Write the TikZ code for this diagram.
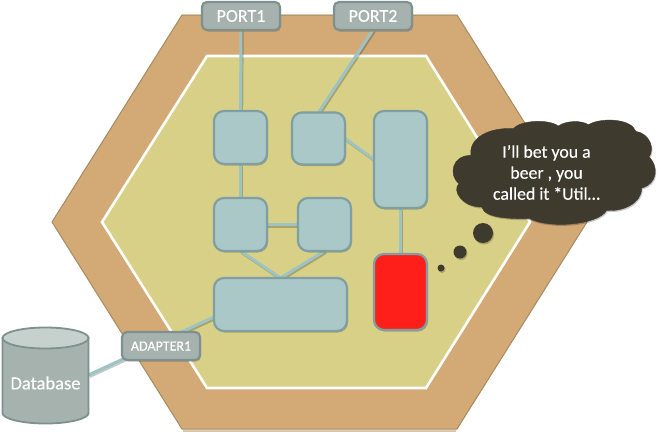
\documentclass[tikz,border=0pt]{standalone}
\usepackage{fontspec}
\setmainfont{Carlito}
\newfontfamily\lblfont[FakeBold=0.35]{Carlito}
\usetikzlibrary{shapes.geometric,shadows,calc}
\pgfdeclarelayer{bg}
\pgfsetlayers{bg,main}
\definecolor{outerc}{HTML}{D3A976}
\definecolor{outeredge}{HTML}{A58C63}
\definecolor{outerpale}{HTML}{D8C7B0}
\definecolor{innerc}{HTML}{D9D088}
\definecolor{boxc}{HTML}{AAC8C8}
\definecolor{boxedge}{HTML}{7F9FA2}
\definecolor{portc}{HTML}{A5B2AE}
\definecolor{portedge}{HTML}{7E918F}
\definecolor{linkc}{HTML}{9CC4C4}
\definecolor{redc}{HTML}{FF1F1A}
\definecolor{cloudc}{HTML}{3F3A2E}
\definecolor{dbtop}{HTML}{C6D1CE}
\tikzset{
  softshadow/.style={drop shadow={shadow xshift=1pt,shadow yshift=-1.5pt,opacity=.22,fill=black}},
  appbox/.style={draw=boxedge,fill=boxc,line width=2.2pt,rounded corners=10pt,inner sep=0pt,outer sep=0pt,softshadow},
  redbox/.style={appbox,fill=redc},
  portbox/.style={draw=portedge,fill=portc,line width=2.2pt,rounded corners=5pt,inner sep=0pt,outer sep=0pt,text=white,softshadow},
  link/.style={draw=linkc,line width=3pt,preaction={draw=black,opacity=.22,line width=3pt,transform canvas={shift={(1.2pt,-1.5pt)}}}},
  bubble/.style={circle,fill=cloudc,inner sep=0pt,outer sep=0pt,softshadow},
  cloudtext/.style={text=white,align=center,font=\lblfont\fontsize{17.8}{21}\selectfont,inner sep=0pt},
  dbpart/.style={draw=portedge,line width=1.8pt}
}
\begin{document}
\begin{tikzpicture}[x=1pt,y=-1pt]
\useasboundingbox (0,0) rectangle (661,431);
% nodes
\node[portbox,minimum width=78,minimum height=28,font=\lblfont\fontsize{18}{20}\selectfont] (port1) at (241,16) {PORT1};
\node[portbox,minimum width=78,minimum height=28,font=\lblfont\fontsize{18}{20}\selectfont] (port2) at (373,16) {PORT2};
\node[appbox,minimum width=53,minimum height=53] (b1) at (240.5,137.5) {};
\node[appbox,minimum width=53,minimum height=52] (b2) at (318.5,138.5) {};
\node[appbox,minimum width=53,minimum height=97] (b3) at (400.5,159.5) {};
\node[appbox,minimum width=53,minimum height=53] (b4) at (240.5,224.5) {};
\node[appbox,minimum width=53,minimum height=53] (b5) at (324.5,224.5) {};
\node[appbox,minimum width=133,minimum height=53] (wide) at (280.5,304.5) {};
\node[redbox,minimum width=53,minimum height=76] (red) at (400.5,292) {};
\node[portbox,minimum width=78,minimum height=28,font=\lblfont\fontsize{14}{16}\selectfont] (adapter) at (161,346) {ADAPTER1};
% database
\path[dbpart,fill=portc] (2.5,338) -- (2.5,413) arc[start angle=180,end angle=360,x radius=43,y radius=-10.5] -- (88.5,338) -- cycle;
\path[dbpart,fill=dbtop] (45.5,338) ellipse[x radius=43,y radius=10.5];
\node[text=white,font=\lblfont\fontsize{18.5}{22}\selectfont,inner sep=0pt,outer sep=0pt,minimum width=86] (db) at (45.5,383) {Database};
% cloud
\filldraw[fill=cloudc,draw=cloudc,softshadow]
  (471,155.3) .. controls (468.3,138.7) and (488.3,127) .. (513.3,128.7)
  .. controls (520,120.3) and (548.3,118.7) .. (558.3,126)
  .. controls (566.7,120.3) and (581.7,120.3) .. (588.3,124.7)
  .. controls (601.7,117) and (631.7,118.7) .. (635.7,131.3)
  .. controls (650,133.7) and (655,148.7) .. (649,157)
  .. controls (658.3,165.3) and (658.3,183.7) .. (641.7,188)
  .. controls (641.7,203.7) and (621.7,212) .. (606.7,210.3)
  .. controls (598.3,225.3) and (548.3,228.7) .. (530,218.7)
  .. controls (511.7,218.7) and (485,218.7) .. (481.7,207)
  .. controls (461.7,207) and (451.7,190.3) .. (459,183.7)
  .. controls (448.3,175.3) and (451.7,155.3) .. (471,155.3) -- cycle;
\node[cloudtext] (say) at (546.5,172.5) {I’ll bet you a\\beer , you\\called it *Util…};
\node[bubble,minimum size=20] (bub1) at (483,233) {};
\node[bubble,minimum size=13] (bub2) at (460,252) {};
\node[bubble,minimum size=7] (bub3) at (441,268) {};
% background
\begin{pgfonlayer}{bg}
\filldraw[fill=outerc,draw=outeredge,line width=1pt,line join=round] (182,15) -- (457,15) -- (587,222) -- (457,429) -- (182,429) -- (52,222) -- cycle;
\draw[outerpale,line width=1.5pt] (182,14.5) -- (457,14.5);
\draw[outerpale,line width=2pt] (183,430.5) -- (456,430.5);
\filldraw[fill=innerc,draw=white,line width=2.6pt,line join=miter] (207,56) -- (426,56) -- (530,222) -- (426,388) -- (207,388) -- (102,222) -- cycle;
\draw[link] (port1.south) -- (b1.north);
\draw[link] (port2.south) -- (b2.north);
\draw[link] (b2.east) -- (b3.west);
\draw[link] (b3.south) -- (red.north);
\draw[link] (b1.south) -- (b4.north);
\draw[link] (b4.east) -- (b5.west);
\draw[link] (b4.south) -- (wide.north);
\draw[link] (b5.south) -- (wide.north);
\draw[link] ([yshift=-12.5pt]wide.west) -- ([yshift=8pt]db.east);
\end{pgfonlayer}
\end{tikzpicture}
\end{document}
